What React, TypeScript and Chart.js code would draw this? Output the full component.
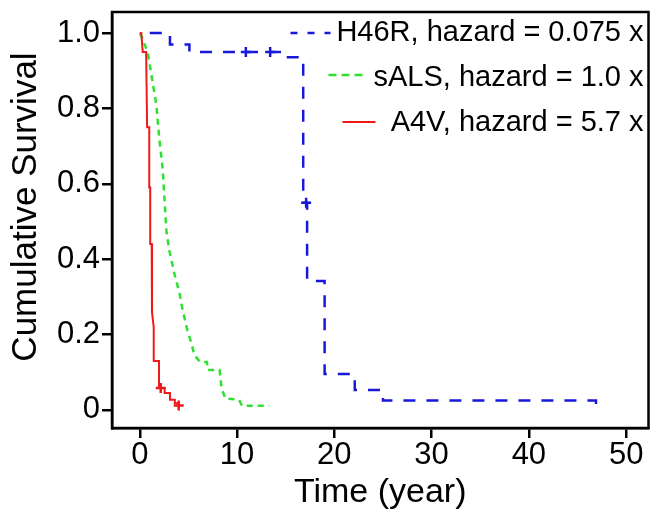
import React, { useEffect, useRef } from 'react';
import { Chart, registerables } from 'chart.js';

Chart.register(...registerables);

// ---- data ----
// H46R (Kaplan-Meier steps: survival drops at each time)
const h46rTime = [0, 3.1, 5.1, 15.0, 16.8, 17.2, 19.0, 22.1, 25.0, 46.9];
const h46rSurv = [1.0, 0.97, 0.95, 0.936, 0.55, 0.342, 0.095, 0.053, 0.025, 0.005];
const h46rCensorTime = [10.9, 13.4, 17.1];
const h46rCensorSurv = [0.95, 0.95, 0.55];

// sALS (vertices of the curve)
const salsTime = [0, 0.2, 0.8, 1.7, 2.0, 2.35, 2.65, 2.75, 3.06, 3.57, 4.08, 4.4, 4.9, 5.3, 5.6, 6.2, 6.9, 7.0, 8.2, 8.4, 8.8, 10.2, 10.5, 13.3];
const salsSurv = [1.0, 0.99, 0.95, 0.81, 0.72, 0.64, 0.51, 0.47, 0.42, 0.36, 0.31, 0.265, 0.21, 0.178, 0.146, 0.127, 0.127, 0.106, 0.106, 0.058, 0.03, 0.027, 0.011, 0.011];

// A4V (vertices of the curve)
const a4vTime = [0, 0.15, 0.3, 0.65, 0.75, 0.97, 0.97, 1.07, 1.07, 1.22, 1.25, 1.43, 1.43, 1.97, 1.97, 2.55, 2.55, 3.1, 3.1, 3.6, 3.6, 4.0];
const a4vSurv = [1.0, 1.0, 0.95, 0.95, 0.75, 0.75, 0.59, 0.59, 0.44, 0.44, 0.26, 0.22, 0.13, 0.13, 0.058, 0.058, 0.045, 0.045, 0.027, 0.027, 0.018, 0.018];
const a4vCensorTime = [2.15, 4.0];
const a4vCensorSurv = [0.058, 0.012];

const xTicks = [0, 10, 20, 30, 40, 50];
const yTicks = [0, 0.2, 0.4, 0.6, 0.8, 1.0];
const legendLabels = ['H46R, hazard = 0.075 x', 'sALS, hazard = 1.0 x', 'A4V, hazard = 5.7 x'];
const yTitle = 'Cumulative Survival';
const xTitle = 'Time (year)';

const FONT = '"Liberation Sans", Arial, Helvetica, sans-serif';
const BLUE = '#1818d8';
const GREEN = '#30e030';
const RED = '#ee1a1a';

const toPts = (t: number[], s: number[]) => t.map((v, i) => ({ x: v, y: s[i] }));

export default function App() {
  const ref = useRef<HTMLCanvasElement>(null);

  useEffect(() => {
    if (!ref.current) return;

    const framePlugin = {
      id: 'frameAndLegend',
      afterDatasetsDraw(chart: any) {
        const { ctx, chartArea: a } = chart;
        ctx.save();
        ctx.strokeStyle = '#000';
        ctx.lineWidth = 2.5;
        ctx.setLineDash([]);
        ctx.strokeRect(a.left, a.top, a.right - a.left, a.bottom - a.top);

        // y-axis title
        ctx.save();
        ctx.translate(26, 207);
        ctx.rotate(-Math.PI / 2);
        ctx.font = `35px ${FONT}`;
        ctx.fillStyle = '#000';
        ctx.textAlign = 'center';
        ctx.textBaseline = 'middle';
        ctx.fillText(yTitle, 0, 0);
        ctx.restore();

        // legend (inside plot, top right, no box)
        const textRight = a.right - 5;
        const rows = [
          { y: a.top + 21, color: BLUE, dash: [7, 10], x0: a.right - 358, x1: a.right - 318, sy: a.top + 21, w: 2.5 },
          { y: a.top + 66, color: GREEN, dash: [8, 5], x0: a.right - 320, x1: a.right - 285, sy: a.top + 63, w: 2.5 },
          { y: a.top + 111, color: RED, dash: [], x0: a.right - 306, x1: a.right - 273, sy: a.top + 110, w: 2 },
        ];
        ctx.font = `29px ${FONT}`;
        ctx.textAlign = 'right';
        ctx.textBaseline = 'middle';
        rows.forEach((r, i) => {
          ctx.strokeStyle = r.color;
          ctx.lineWidth = r.w;
          ctx.setLineDash(r.dash);
          ctx.beginPath();
          ctx.moveTo(r.x0, r.sy);
          ctx.lineTo(r.x1, r.sy);
          ctx.stroke();
          ctx.setLineDash([]);
          ctx.fillStyle = '#000';
          ctx.fillText(legendLabels[i], textRight, r.y);
        });
        ctx.restore();
      },
    };

    const chart = new Chart(ref.current, {
      type: 'scatter',
      data: {
        datasets: [
          {
            label: 'A4V',
            data: toPts(a4vTime, a4vSurv),
            showLine: true,
            borderColor: RED,
            borderWidth: 2,
            pointRadius: 0,
            fill: false,
          },
          {
            label: 'A4V censored',
            data: toPts(a4vCensorTime, a4vCensorSurv),
            showLine: false,
            pointStyle: 'cross',
            pointRadius: 5,
            pointBorderWidth: 2.5,
            pointBorderColor: RED,
            pointBackgroundColor: RED,
          },
          {
            label: 'sALS',
            data: toPts(salsTime, salsSurv),
            showLine: true,
            borderColor: GREEN,
            borderWidth: 2.5,
            borderDash: [6, 5],
            pointRadius: 0,
            fill: false,
          },
          {
            label: 'H46R',
            data: toPts(h46rTime, h46rSurv),
            showLine: true,
            stepped: 'before',
            borderColor: BLUE,
            borderWidth: 2.5,
            borderDash: [12, 11],
            borderDashOffset: 13,
            pointRadius: 0,
            fill: false,
          },
          {
            label: 'H46R censored',
            data: toPts(h46rCensorTime, h46rCensorSurv),
            showLine: false,
            pointStyle: 'cross',
            pointRadius: 5,
            pointBorderWidth: 2.5,
            pointBorderColor: BLUE,
            pointBackgroundColor: BLUE,
          },
        ],
      },
      options: {
        responsive: false,
        animation: false,
        devicePixelRatio: 1,
        layout: { padding: { top: 12, right: 3, left: 0, bottom: 0 } },
        plugins: {
          legend: { display: false },
          tooltip: { enabled: false },
        },
        scales: {
          x: {
            type: 'linear',
            min: -2.86,
            max: 52.3,
            afterBuildTicks: (s: any) => {
              s.ticks = xTicks.map((v) => ({ value: v }));
            },
            afterFit: (s: any) => {
              s.height = 86;
              s.paddingLeft = 0;
              s.paddingRight = 0;
            },
            grid: {
              display: true,
              drawOnChartArea: false,
              drawTicks: true,
              tickLength: 10,
              color: '#000',
              lineWidth: 2.5,
            },
            border: { display: true, color: '#000', width: 2.5 },
            ticks: {
              color: '#000',
              font: { family: FONT, size: 31, lineHeight: 1 },
              padding: 2,
              maxRotation: 0,
              autoSkip: false,
            },
            title: {
              display: true,
              text: xTitle,
              color: '#000',
              font: { family: FONT, size: 34, lineHeight: 1 },
              padding: { top: 0, bottom: 4 },
            },
          },
          y: {
            type: 'linear',
            min: -0.048,
            max: 1.056,
            afterBuildTicks: (s: any) => {
              s.ticks = yTicks.map((v) => ({ value: v }));
            },
            afterFit: (s: any) => {
              s.width = 112;
              s.paddingTop = 0;
              s.paddingBottom = 0;
            },
            grid: {
              display: true,
              drawOnChartArea: false,
              drawTicks: true,
              tickLength: 10,
              color: '#000',
              lineWidth: 2.5,
            },
            border: { display: true, color: '#000', width: 2.5 },
            ticks: {
              color: '#000',
              font: { family: FONT, size: 31, lineHeight: 0.6 },
              padding: 2,
              autoSkip: false,
              callback: (v: any) => (Number(v) === 0 ? '0' : Number(v).toFixed(1)),
            },
            title: { display: false },
          },
        },
      },
      plugins: [framePlugin],
    } as any);

    return () => chart.destroy();
  }, []);

  return (
    <div style={{ position: 'fixed', left: 0, top: 0, width: 656, height: 514, background: '#fff' }}>
      <canvas ref={ref} width={656} height={514} style={{ display: 'block', width: 656, height: 514 }} />
    </div>
  );
}
